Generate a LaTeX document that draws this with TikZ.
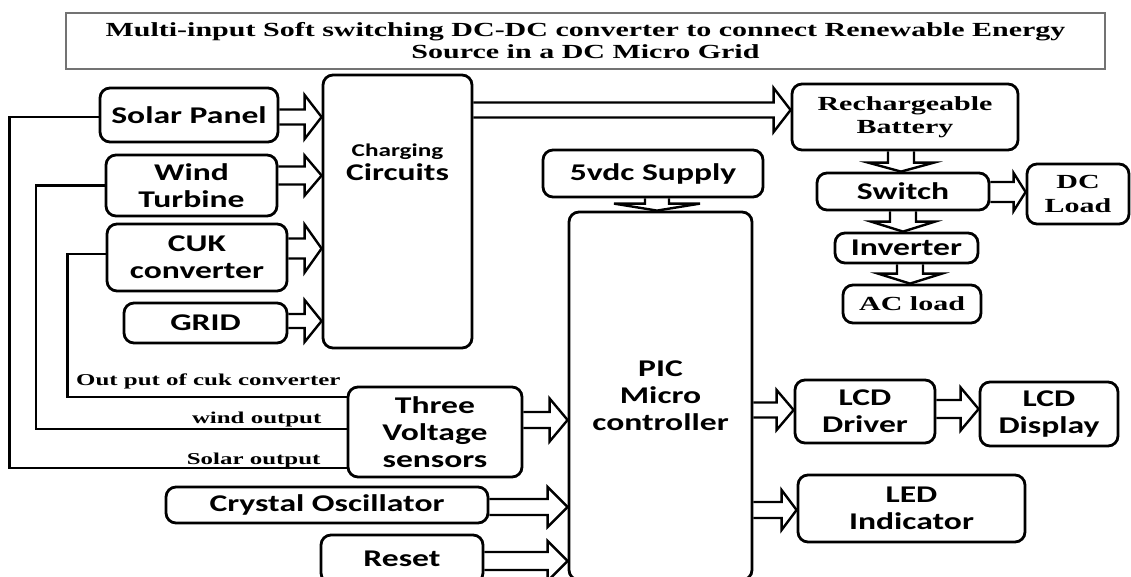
\documentclass[tikz,border=0pt]{standalone}
\usepackage{fontspec}
\usepackage{tikz}
\usetikzlibrary{calc,positioning}
\newfontfamily\cfont[FakeStretch=1.4]{Carlito}
\newfontfamily\tfont[FakeStretch=1.5]{Liberation Serif}
\tikzset{
  box/.style={draw,line width=2.8pt,rounded corners=10pt,align=center,inner sep=0pt,font=\cfont\bfseries\fontsize{24}{27}\selectfont},
  tbox/.style={box,font=\tfont\bfseries\fontsize{20}{23.5}\selectfont},
  blk/.style={draw,line width=2.4pt,line join=miter},
  wire/.style={draw,line width=2.4pt},
  wlab/.style={font=\tfont\bfseries\fontsize{16.6}{20}\selectfont,inner sep=0pt}
}
\begin{document}
\begin{tikzpicture}[x=1pt,y=-1pt,
  ttl/.style={draw=black!55,line width=1.2pt,minimum width=1039pt,minimum height=56pt,align=center,inner sep=0pt,font=\tfont\bfseries\fontsize{20}{22}\selectfont}]
\newcommand{\hollow}[5]{\path (#1) coordinate (ha) (#2) coordinate (hb);
  \path ($(hb)!#5!(ha)$) coordinate (hc);
  \draw[blk] ($(ha)!#3!90:(hb)$) -- ($(hc)!#3!-90:(ha)$) -- ($(hc)!#4!-90:(ha)$) -- (hb) -- ($(hc)!#4!90:(ha)$) -- ($(hc)!#3!90:(ha)$) -- ($(ha)!#3!-90:(hb)$);}
\useasboundingbox (0,0) rectangle (1131,577);
\node[ttl] (title) at (585.5,41) {Multi-input Soft switching DC-DC converter to connect Renewable Energy\\Source in a DC Micro Grid};
\foreach \n/\s/\x/\y/\w/\h/\t in {
{solar}/{box}/{189}/{115}/{178}/{54}/{Solar Panel},
{wind}/{box}/{191.5}/{185.5}/{171}/{61}/{Wind\\Turbine},
{cuk}/{box}/{197}/{257.5}/{180}/{67}/{CUK\\converter},
{grid}/{box}/{205.5}/{323}/{163}/{40}/{GRID},
{chg}/{box}/{397.5}/{211.5}/{149}/{273}/{},
{batt}/{tbox}/{905}/{117}/{226}/{66}/{Rechargeable\\Battery},
{supply}/{box}/{653}/{173.5}/{220}/{47}/{5vdc Supply},
{switch}/{box}/{903}/{191.5}/{172}/{37}/{Switch},
{dcload}/{tbox}/{1078}/{194}/{102}/{60}/{DC\\Load},
{inv}/{box}/{906.5}/{248}/{143}/{30}/{Inverter},
{acload}/{tbox}/{912}/{304}/{138}/{38}/{AC load},
{pic}/{box}/{660.5}/{396}/{183}/{368}/{PIC\\Micro\\controller},
{sensors}/{box}/{435}/{432}/{174}/{90}/{Three\\Voltage\\sensors},
{crystal}/{box}/{327}/{505}/{322}/{36}/{Crystal Oscillator},
{reset}/{box}/{402}/{559}/{162}/{48}/{Reset},
{lcdd}/{box}/{865}/{411.5}/{140}/{63}/{LCD\\Driver},
{lcdp}/{box}/{1049}/{414}/{138}/{64}/{LCD\\Display},
{led}/{box}/{911.5}/{508.5}/{227}/{67}/{LED\\Indicator}}
  \node[\s,minimum width=\w pt,minimum height=\h pt] (\n) at (\x,\y) {\t};
\node[align=center,inner sep=0pt,font=\cfont\bfseries\fontsize{24}{24}\selectfont] (chglab) at ($(chg.north)+(0,89)$) {{\fontsize{18}{20}\selectfont Charging}\\Circuits};
\foreach \a/\b/\dy/\sh/\hd/\hl in {
solar/chg/2/7.5/22/17, wind/chg/-10/9/20/17, cuk/chg/-9/10/24/17, grid/chg/-2/7/21/17,
chg/batt/-101.5/7.5/22/17, switch/dcload/0.5/10/19/12, sensors/pic/-12/8/21.5/18,
crystal/pic/2/8/20/20, reset/pic/2/9/20/20, pic/lcdd/14/7.5/20/17,
lcdd/lcdp/-2.5/9/21.5/18, pic/led/114/8/20/15}
  \hollow{$(\a.east)+(0,\dy)$}{$(\a.east -| \b.west)+(0,\dy)$}{\sh pt}{\hd pt}{\hl pt};
\foreach \a/\b/\dx/\sh/\hd/\hl in {
supply/pic/4/12/43/7, batt/switch/-4/13/33/9, switch/inv/0/13/32/10, inv/acload/3.5/13/32/10}
  \hollow{$(\a.south)+(\dx,0)$}{$(\a.south |- \b.north)+(\dx,0)$}{\sh pt}{\hd pt}{\hl pt};
\draw[wire] ($(solar.west)+(0,2)$) -- ++(-89,0) |- ($(sensors.west)+(0,36)$);
\draw[wire] (wind.west) -- ++(-68.5,0) |- ($(sensors.west)+(0,-3)$);
\draw[wire] ($(cuk.west)+(0,-3.5)$) -- ++(-38,0) |- ($(sensors.west)+(0,-35)$);
\node[wlab,anchor=base east] (lcuk) at ($(sensors.west)+(-6,-46.5)$) {Out put of cuk converter};
\node[wlab,anchor=base east] (lwind) at ($(sensors.west)+(-25,-9)$) {wind output};
\node[wlab,anchor=base east] (lsolar) at ($(sensors.west)+(-26,32)$) {Solar output};
\end{tikzpicture}
\end{document}
